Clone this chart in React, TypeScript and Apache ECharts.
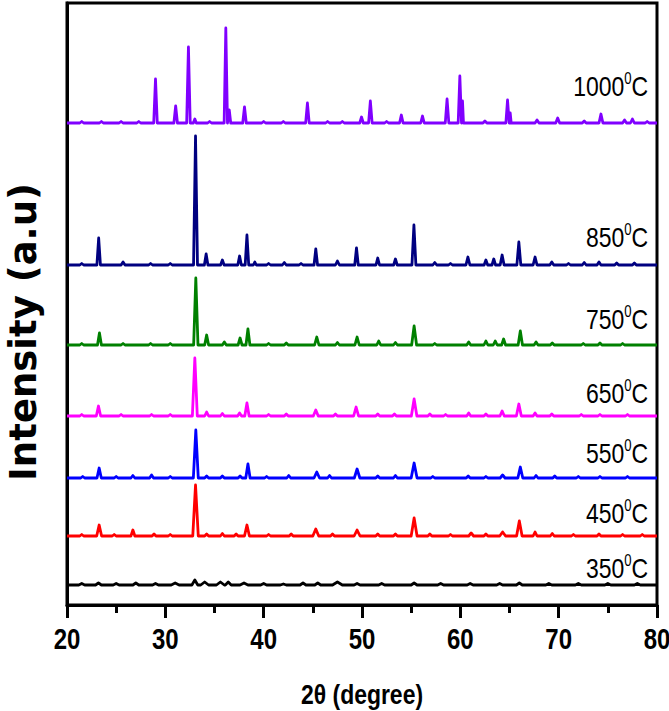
import React, { useEffect, useRef } from "react";
import * as echarts from "echarts";

// ---- data (intensity in arbitrary units) ----
const temperatures = ["350", "450", "550", "650", "750", "850", "1000"];
const colors = ["#000000", "#ff0000", "#0000ff", "#ff00ff", "#008000", "#000080", "#8000ff"];
const baselines = [20, 69, 127, 189, 260, 340, 482];
const labelY = [37, 92, 152, 212, 286, 368, 519];
const xTickLabels = [20, 30, 40, 50, 60, 70, 80];

// [2θ position, height above baseline, half width]
const peaks350 = [[21.5,1.5,0.3],[23.2,2,0.3],[25,1.5,0.3],[27,2,0.3],[29,1.5,0.3],[31,2,0.4],[33.0,5,0.3],[34,3,0.4],[35.6,3,0.4],[36.4,3,0.3],[38,2,0.4],[40,1.5,0.3],[42,1,0.3],[44,2,0.3],[45.5,2,0.3],[47.5,3,0.5],[49.5,1.5,0.3],[52,1.5,0.3],[55.3,2,0.3],[58,1.5,0.3],[61,1.5,0.3],[64,1.5,0.3],[66,2,0.3],[69,1.5,0.3],[72,1.5,0.3],[75,1.5,0.3],[78,1.5,0.3]];
const peaks450 = [[21.5,1.5,.2],[23.27,11,.25],[24.8,1.5,.2],[26.7,6,.2],[28.85,2,.2],[30.5,1.5,.2],[33.07,51,.28],[34.2,2,.2],[35.8,2.5,.2],[37.2,2,.2],[38.3,11,.25],[40.5,1.5,.2],[42.8,2,.2],[45.3,7,.3],[47,2,.2],[49.5,6,.3],[51.6,2,.2],[53.4,2,.2],[55.3,18,.3],[56.9,2,.2],[59,1.5,.2],[61.1,3,.25],[62.6,2,.2],[64.3,4,.3],[66.0,15,.28],[67.6,4,.2],[69.35,2.5,.2],[71.5,1.5,.2],[74.1,2,.2],[76.5,1.5,.2],[78.5,1.5,.2]];
const peaks550 = [[21.6,1.5,.2],[23.27,10,.22],[25,1.5,.2],[26.7,2.5,.2],[28.6,3,.2],[30.5,1.5,.2],[33.1,48,.25],[34.2,2,.2],[35.8,2,.2],[37.6,2,.2],[38.4,14,.22],[40.3,1.5,.2],[42.55,2.5,.2],[45.4,6,.28],[46.7,2.5,.2],[49.5,9,.28],[51.6,2,.2],[53.4,2.5,.2],[55.3,15,.3],[57.2,1.5,.2],[60.8,2,.2],[62.6,1.5,.2],[64.3,3,.25],[66.1,11,.25],[67.7,2.5,.2],[69.6,2,.2],[72,1.5,.2],[74.2,1.5,.2],[77,1.5,.2]];
const peaks650 = [[21.5,1.5,.2],[23.2,10,.22],[25.5,1.5,.2],[28.6,1.5,.2],[30.5,1.5,.2],[33.0,58,.25],[34.2,4,.2],[35.8,2.5,.2],[37.55,3,.2],[38.3,13,.22],[40.5,1.5,.2],[42.3,2,.2],[45.3,6,.25],[47.3,2,.2],[49.4,9,.25],[51.6,2,.2],[53.3,2,.2],[55.3,17,.28],[56.9,2,.2],[58.5,1.5,.2],[60.85,3,.2],[62.6,2,.2],[64.25,5,.22],[65.95,12,.25],[67.6,3,.2],[69.3,2,.2],[72.3,1.5,.2],[74.2,1.5,.2],[77,1.5,.2]];
const peaks750 = [[21.5,1.5,.2],[23.3,12,.2],[25.7,1.5,.2],[28.5,1.5,.2],[30.5,1.5,.2],[33.1,67,.22],[34.2,10,.2],[36.0,3,.2],[37.6,7,.2],[38.4,16,.2],[40.5,1.5,.2],[42.3,2,.2],[45.4,8,.22],[47.5,2.5,.2],[49.5,8,.22],[51.7,4,.2],[53.4,2.5,.2],[55.3,19,.25],[57.4,1.5,.2],[60.85,3,.2],[62.6,4,.2],[63.55,4,.2],[64.4,6,.2],[66.1,14,.22],[67.7,3,.2],[69.35,2,.2],[72.5,1.5,.2],[74.2,2,.2],[76.5,1.5,.2]];
const peaks850 = [[21.5,1.5,.2],[23.22,27,.18],[25.7,3,.2],[28.5,1.5,.2],[30.5,1.5,.2],[33.07,129,.2],[34.15,11,.18],[35.8,5,.18],[37.55,9,.18],[38.3,30,.18],[39.1,3,.15],[40.5,1.5,.2],[42.1,2.5,.2],[43.8,1.5,.2],[45.3,16,.18],[47.5,4,.2],[49.44,17,.18],[51.6,7,.18],[53.4,6,.18],[55.28,40,.2],[57.4,2.5,.2],[59,1.5,.2],[60.77,8,.2],[62.6,5,.18],[63.4,6,.18],[64.25,10,.2],[65.95,23,.2],[67.6,8,.2],[69.3,3,.2],[71,1.5,.2],[72.6,2.5,.2],[74.1,3,.2],[75.9,2,.2],[77.7,2,.2]];
const peaks1000 = [[21.5,1.5,.2],[23.5,1.5,.2],[25.5,1.5,.2],[27.3,1.5,.2],[29.0,44,.18],[31.05,17,.18],[32.35,76,.18],[33.0,4,.15],[34.5,1.5,.2],[36.15,95,.17],[36.5,13,.15],[38.05,16,.18],[40,1.5,.2],[42,1.5,.2],[44.45,20,.18],[46.5,1.5,.2],[48,1.5,.2],[49.95,6,.18],[50.85,22,.18],[52.5,1.5,.2],[54.0,8,.18],[56.15,7,.18],[58.65,24,.18],[59.95,47,.17],[60.22,22,.1],[62.5,2,.2],[64.8,23,.17],[65.07,10,.1],[67.8,3,.2],[69.9,5,.2],[72.6,2,.2],[74.3,9,.2],[76.7,3,.2],[77.5,4,.2],[79,1.5,.2]];

const peakSets = [peaks350, peaks450, peaks550, peaks650, peaks750, peaks850, peaks1000];

const X_MIN = 20;
const X_MAX = 80;
const X_INTERVAL = 10;
const LABEL_X = 79.1;

const SANS = "'Liberation Sans', Arial, sans-serif";
const NARROW = 0.8;

function buildLine(peaks: number[][], base: number): number[][] {
  const pts: number[][] = [[X_MIN, base]];
  for (const [p, h, w] of peaks) {
    pts.push([p - w, base], [p, base + h], [p + w, base]);
  }
  pts.push([X_MAX, base]);
  return pts;
}

export default function App() {
  const ref = useRef<HTMLDivElement>(null);

  useEffect(() => {
    document.body.style.margin = "0";
    if (!ref.current) return;
    const chart = echarts.init(ref.current, undefined, { renderer: "svg" });

    const lineSeries = temperatures.map((t, i) => ({
      type: "line",
      name: t,
      data: buildLine(peakSets[i], baselines[i]),
      showSymbol: false,
      symbol: "none",
      lineStyle: { color: colors[i], width: 2.8, join: "round" },
      itemStyle: { color: colors[i] },
      silent: true,
      z: 3,
    }));

    // temperature labels, drawn in a narrow face
    const labelSeries = {
      type: "custom",
      silent: true,
      clip: false,
      z: 5,
      data: temperatures.map((t, i) => [LABEL_X, labelY[i], i]),
      renderItem: (_params: any, api: any) => {
        const pt = api.coord([api.value(0), api.value(1)]);
        const idx = api.value(2);
        return {
          type: "text",
          x: pt[0],
          y: pt[1],
          scaleX: NARROW + 0.02,
          style: {
            text: `{n|${temperatures[idx]}}{s|0}{n|C}`,
            align: "right",
            verticalAlign: "middle",
            fill: "#000",
            rich: {
              n: { fontFamily: SANS, fontSize: 28, lineHeight: 30, fill: "#000" },
              s: { fontFamily: SANS, fontSize: 16, lineHeight: 30, verticalAlign: "top", fill: "#000" },
            },
          },
        };
      },
    };

    // x tick labels in a narrow bold face
    const tickLabelSeries = {
      type: "custom",
      silent: true,
      clip: false,
      z: 5,
      data: xTickLabels.map((v) => [v, 0]),
      renderItem: (_params: any, api: any) => {
        const pt = api.coord([api.value(0), 0]);
        return {
          type: "text",
          x: pt[0],
          y: pt[1] + 34,
          scaleX: NARROW,
          style: {
            text: String(api.value(0)),
            font: `bold 30px ${SANS}`,
            fill: "#000",
            align: "center",
            verticalAlign: "middle",
          },
        };
      },
    };

    chart.setOption({
      animation: false,
      backgroundColor: "#fff",
      grid: {
        left: 67,
        right: 12,
        top: 3,
        bottom: 106,
        show: true,
        borderColor: "#000",
        borderWidth: 3,
        containLabel: false,
      },
      xAxis: {
        type: "value",
        min: X_MIN,
        max: X_MAX,
        interval: X_INTERVAL,
        axisLine: { show: true, lineStyle: { color: "#000", width: 3 } },
        axisTick: { show: true, inside: false, length: 13, lineStyle: { color: "#000", width: 3 } },
        minorTick: { show: true, splitNumber: 2, length: 8, lineStyle: { color: "#000", width: 3 } },
        axisLabel: { show: false },
        splitLine: { show: false },
      },
      yAxis: {
        type: "value",
        min: 0,
        max: 602,
        axisLine: { show: true, lineStyle: { color: "#000", width: 3 } },
        axisTick: { show: false },
        axisLabel: { show: false },
        splitLine: { show: false },
      },
      graphic: [
        {
          type: "text",
          x: 23,
          y: 332,
          rotation: Math.PI / 2,
          style: {
            text: "Intensity (a.u)",
            font: "bold 37px 'DejaVu Sans', sans-serif",
            fill: "#000",
            align: "center",
            verticalAlign: "middle",
          },
        },
        {
          type: "text",
          x: 362,
          y: 694,
          scaleX: NARROW + 0.02,
          style: {
            text: "2θ (degree)",
            font: `bold 28px ${SANS}`,
            fill: "#000",
            align: "center",
            verticalAlign: "middle",
          },
        },
      ],
      series: [...lineSeries, labelSeries, tickLabelSeries],
    });

    return () => chart.dispose();
  }, []);

  return <div ref={ref} style={{ width: 669, height: 711 }} />;
}
